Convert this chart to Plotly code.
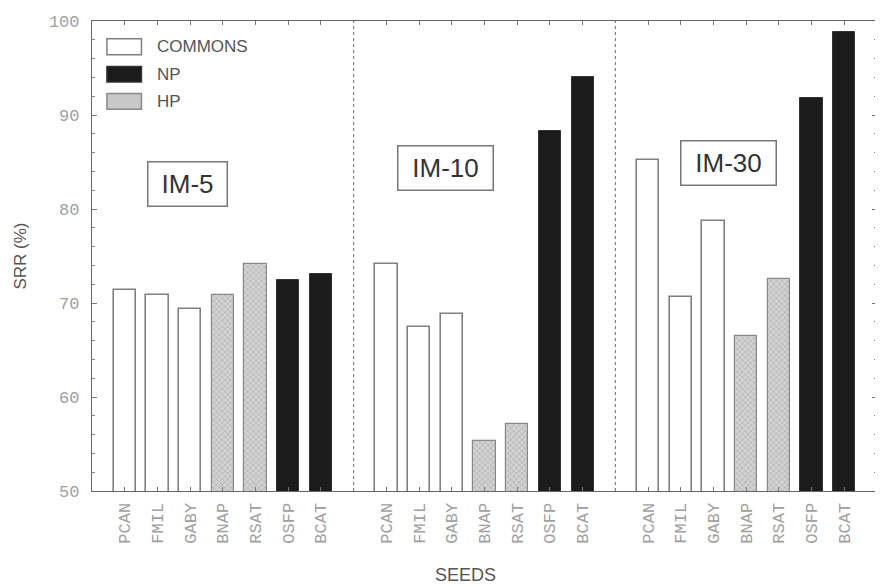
import plotly.graph_objects as go

seeds = ["PCAN", "FMIL", "GABY", "BNAP", "RSAT", "OSFP", "BCAT"]
seed_type = ["COMMONS", "COMMONS", "COMMONS", "HP", "HP", "NP", "NP"]
groups = ["IM-5", "IM-10", "IM-30"]
im5 = [71.4, 70.9, 69.4, 70.9, 74.2, 72.5, 73.1]
im10 = [74.2, 67.4, 68.8, 55.3, 57.1, 88.3, 94.0]
im30 = [85.2, 70.6, 78.7, 66.5, 72.6, 91.8, 98.8]
y_ticks = [50, 60, 70, 80, 90, 100]

values = [im5, im10, im30]
slots = len(seeds) + 1

styles = {
    "COMMONS": dict(color="white", line=dict(color="#808080", width=1.6)),
    "NP": dict(color="#1b1b1b", line=dict(color="#333333", width=1)),
    "HP": dict(color="#cccccc", line=dict(color="#888888", width=1.2),
               pattern=dict(shape="x", size=4, solidity=0.3,
                            fgcolor="#888888", bgcolor="#d2d2d2")),
}

fig = go.Figure()
tickvals, ticktext = [], []
for t in ["COMMONS", "NP", "HP"]:
    xs, ys = [], []
    for g, vals in enumerate(values):
        for i, s in enumerate(seeds):
            if seed_type[i] == t:
                xs.append(g * slots + i + 1)
                ys.append(vals[i])
    fig.add_trace(go.Bar(x=xs, y=ys, name=t, width=0.68, marker=styles[t],
                         showlegend=False))
for g in range(len(groups)):
    for i, s in enumerate(seeds):
        tickvals.append(g * slots + i + 1)
        ticktext.append(s)

shapes = []
for g in range(1, len(groups)):
    shapes.append(dict(type="line", xref="x", yref="y", x0=g * slots, x1=g * slots,
                       y0=50, y1=100, line=dict(color="#666666", width=1, dash="dot")))

# legend drawn manually
leg = [("COMMONS", 0.962, 0.928), ("NP", 0.903, 0.870), ("HP", 0.846, 0.812)]
annotations = []
for name, y1, y0 in leg:
    st = styles[name]
    shp = dict(type="rect", xref="paper", yref="paper", x0=0.019, x1=0.063,
               y0=y0, y1=y1, fillcolor=st["color"] if name != "HP" else "#c8c8c8",
               line=dict(color=st["line"]["color"], width=1.5))
    shapes.append(shp)
    annotations.append(dict(x=0.080, y=(y0 + y1) / 2, xref="paper", yref="paper",
                            text=name, showarrow=False, xanchor="left", yanchor="middle",
                            font=dict(family="Arial, Liberation Sans", size=17, color="#555555")))

box_pos = [(2.92, 82.65, 66), (10.81, 84.33, 82), (19.45, 84.86, 82)]
for (x, y, w), g in zip(box_pos, groups):
    annotations.append(dict(x=x, y=y, xref="x", yref="y", text=g, showarrow=False,
                            font=dict(family="Arial, Liberation Sans", size=26, color="#333333"),
                            bordercolor="#777777", borderwidth=1.5, borderpad=6,
                            width=w, height=31, bgcolor="white"))

annotations.append(dict(x=(466 - 92) / 786, y=-(576 - 491) / 474, xref="paper", yref="paper",
                        text="SEEDS", showarrow=False, yanchor="middle",
                        font=dict(family="Arial, Liberation Sans", size=18, color="#555555")))

fig.update_layout(
    width=875, height=579,
    margin=dict(l=84, r=5, t=9, b=96),
    paper_bgcolor="white", plot_bgcolor="white",
    bargap=0,
    shapes=shapes, annotations=annotations,
    xaxis=dict(range=[0, slots * len(groups)], tickvals=tickvals, ticktext=ticktext,
               tickangle=-90, ticks="inside", ticklen=4, tickcolor="#777777",
               showline=True, linecolor="#666666", linewidth=1.2, mirror="ticks",
               showgrid=False, zeroline=False, ticklabelstandoff=4,
               tickfont=dict(family="Liberation Mono, DejaVu Sans Mono", size=17, color="#a0a0a0")),
    yaxis=dict(range=[50, 100], tickvals=y_ticks, ticks="inside", ticklen=5,
               tickcolor="#777777", showline=True, linecolor="#666666", linewidth=1.2,
               mirror="ticks", showgrid=False, zeroline=False, ticklabelstandoff=8,
               minor=dict(dtick=2, ticks="inside", ticklen=3, tickcolor="#888888"),
               tickfont=dict(family="Liberation Mono, DejaVu Sans Mono", size=17, color="#a0a0a0"),
               title=dict(text="SRR (%)", standoff=17,
                          font=dict(family="Arial, Liberation Sans", size=17, color="#555555"))),
)

fig.write_html("out.html")
